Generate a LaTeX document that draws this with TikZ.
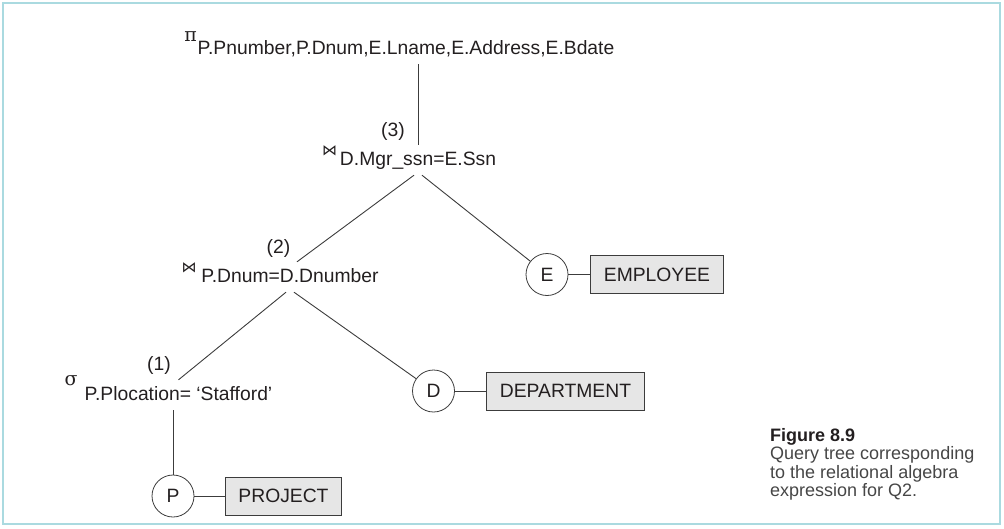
\documentclass[tikz,border=0pt]{standalone}
\usepackage{fontspec}
\setmainfont{Liberation Sans}
\newfontfamily\greekfont{DejaVu Serif}
\newfontfamily\symbolfont{DejaVu Sans}
\usepackage{tikz}

\definecolor{framecol}{RGB}{170,218,224}
\definecolor{inkcol}{RGB}{35,31,32}
\definecolor{captioncol}{RGB}{70,70,70}
\definecolor{edgecol}{RGB}{60,60,60}
\definecolor{relfill}{RGB}{230,230,230}

\begin{document}
\begin{tikzpicture}[x=1pt, y=-1pt,
		every node/.style={text=inkcol, font=\fontsize{19.3}{22}\selectfont},
		opnode/.style={anchor=base, inner xsep=0pt, inner ysep=6pt, text height=14pt, text depth=4pt},
		joinsym/.style={inner sep=0pt, font=\symbolfont\fontsize{15}{15}\selectfont},
		greeksym/.style={inner sep=0pt, font=\greekfont\fontsize{19}{19}\selectfont},
		stepnum/.style={inner sep=0pt},
		varnode/.style={circle, draw=edgecol, line width=0.8pt, minimum size=42pt, inner sep=0pt},
		relnode/.style={draw=edgecol, line width=0.9pt, fill=relfill, minimum height=38pt, inner xsep=13pt, inner ysep=0pt},
		edge/.style={draw=edgecol, line width=0.9pt},
		captext/.style={anchor=base west, inner sep=0pt, text=captioncol, align=left, font=\fontsize{18}{18.5}\selectfont}]
		
		% Frame and size
		\useasboundingbox (0,0) rectangle (1004,528);
		\draw[framecol, line width=2pt] (3,3) rectangle (1000,524);
		
		% Projection
		\node[opnode] (projop) at (406,54) {P.Pnumber,P.Dnum,E.Lname,E.Address,E.Bdate};
		\node[greeksym] (projsym) at (190.5,37) {π};
		
		% Join (3)
		\node[opnode] (join3) at (418,165) {D.Mgr\_ssn=E.Ssn};
		\node[joinsym] (join3sym) at (329.5,151) {⋈};
		\node[stepnum] (join3num) at (393,132) {(3)};
		
		% Join (2)
		\node[opnode] (join2) at (290,282) {P.Dnum=D.Dnumber};
		\node[joinsym] (join2sym) at (189,268) {⋈};
		\node[stepnum] (join2num) at (278.5,248) {(2)};
		
		% Selection (1)
		\node[opnode] (selop) at (178.5,400) {P.Plocation= ‘Stafford’};
		\node[greeksym] (selsym) at (71,381) {σ};
		\node[stepnum] (selnum) at (159,365) {(1)};
		
		% Leaves
		\node[varnode] (E) at (547,274.5) {E};
		\node[varnode] (D) at (433.5,391) {D};
		\node[varnode] (P) at (173,496) {P};
		\node[relnode] (employee) at (657,274.5) {EMPLOYEE};
		\node[relnode] (department) at (565.5,391) {DEPARTMENT};
		\node[relnode] (project) at (283.5,496) {PROJECT};
		
		% Tree edges
		\draw[edge] (join3.north |- projop.south) -- (join3.north);
		\draw[edge] ([xshift=-4pt]join3.south) -- ([xshift=7pt]join2.north);
		\draw[edge] ([xshift=4pt]join3.south) -- (E);
		\draw[edge] ([xshift=-4pt]join2.south) -- (selop.north);
		\draw[edge] ([xshift=4pt]join2.south) -- (D);
		\draw[edge] (P.north |- selop.south) -- (P);
		
		% Leaf to relation
		\draw[edge] (E) -- (employee);
		\draw[edge] (D) -- (department);
		\draw[edge] (P) -- (project);
		
		% Caption
		\node[captext] (caption) at (770,496.5) {\textcolor{inkcol}{\bfseries Figure 8.9}\\Query tree corresponding\\to the relational algebra\\expression for Q2.};
		
	\end{tikzpicture}
\end{document}
